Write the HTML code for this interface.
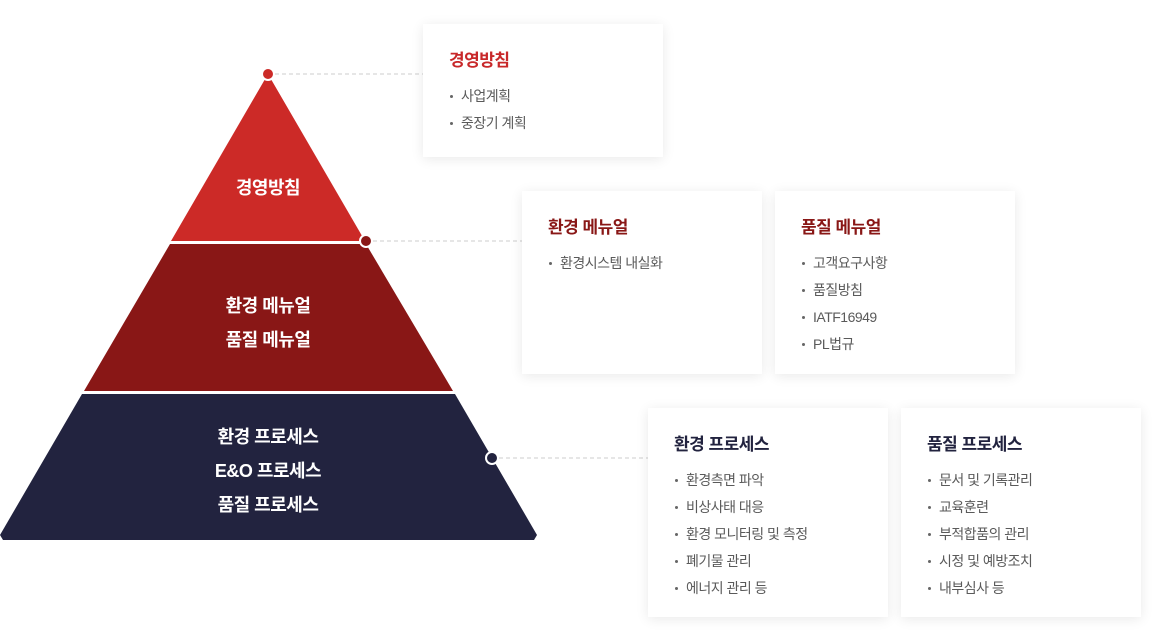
<!DOCTYPE html>
<html><head><meta charset="utf-8"><style>
body{margin:0;width:1165px;height:642px;background:#fff;position:relative;overflow:hidden;font-family:"Liberation Sans","Noto Sans CJK KR",sans-serif}
.card{position:absolute;background:#fff;box-shadow:0 2px 12px rgba(0,0,0,0.09);box-sizing:border-box;padding-left:27px}
.card h3{margin:0;position:absolute;left:26px;font-size:17px;font-weight:bold;letter-spacing:-0.5px}
.card ul{list-style:none;margin:0;padding:0;position:absolute;left:27px}
.card li{font-size:14px;color:#5a5a5a;height:27px;line-height:27px;letter-spacing:-0.5px;position:relative;padding-left:11px}
.card li:before{content:"";position:absolute;left:0;top:12px;width:3px;height:3px;border-radius:50%;background:#666}
.pt{position:absolute;color:#fff;font-size:18px;font-weight:bold;text-align:center;letter-spacing:-0.5px;line-height:34px}
</style></head><body>
<svg width="1165" height="642" style="position:absolute;left:0;top:0">
<polygon points="268,74 365,241 171,241" fill="#cc2a27"/>
<polygon points="170,244 366,244 453,391 84,391" fill="#891716"/>
<polygon points="82,394 455,394 537,535 534,540 3,540 0,535" fill="#22233f"/>
<g stroke="#ccc" stroke-dasharray="4,3" stroke-width="1">
<line x1="275" y1="74" x2="423" y2="74"/>
<line x1="373" y1="241" x2="522" y2="241"/>
<line x1="499" y1="458" x2="648" y2="458"/>
</g>
<circle cx="268" cy="74" r="6" fill="#cc2a27" stroke="#fff" stroke-width="2"/>
<circle cx="366" cy="241" r="6" fill="#891716" stroke="#fff" stroke-width="2"/>
<circle cx="492" cy="458" r="6" fill="#22233f" stroke="#fff" stroke-width="2"/>
</svg>
<div class="pt" style="left:168px;width:200px;top:171px">경영방침</div>
<div class="pt" style="left:168px;width:200px;top:289px">환경 메뉴얼<br>품질 메뉴얼</div>
<div class="pt" style="left:168px;width:200px;top:420px">환경 프로세스<br>E&amp;O 프로세스<br>품질 프로세스</div>

<div class="card" style="left:423px;top:24px;width:240px;height:133px"><h3 style="top:22px;color:#c8282a">경영방침</h3><ul style="top:59px"><li>사업계획</li><li>중장기 계획</li></ul></div>
<div class="card" style="left:522px;top:191px;width:240px;height:183px"><h3 style="top:22px;color:#891716">환경 메뉴얼</h3><ul style="top:59px"><li>환경시스템 내실화</li></ul></div>
<div class="card" style="left:775px;top:191px;width:240px;height:183px"><h3 style="top:22px;color:#891716">품질 메뉴얼</h3><ul style="top:59px"><li>고객요구사항</li><li>품질방침</li><li>IATF16949</li><li>PL법규</li></ul></div>
<div class="card" style="left:648px;top:408px;width:240px;height:209px"><h3 style="top:22px;color:#22233f">환경 프로세스</h3><ul style="top:59px"><li>환경측면 파악</li><li>비상사태 대응</li><li>환경 모니터링 및 측정</li><li>폐기물 관리</li><li>에너지 관리 등</li></ul></div>
<div class="card" style="left:901px;top:408px;width:240px;height:209px"><h3 style="top:22px;color:#22233f">품질 프로세스</h3><ul style="top:59px"><li>문서 및 기록관리</li><li>교육훈련</li><li>부적합품의 관리</li><li>시정 및 예방조치</li><li>내부심사 등</li></ul></div>
</body></html>
